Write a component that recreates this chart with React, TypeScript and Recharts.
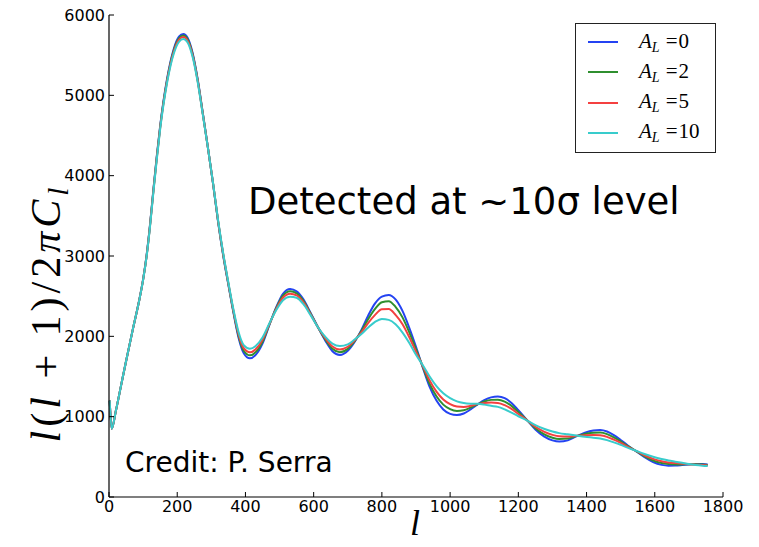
import React from 'react';
import { LineChart, Line, XAxis, YAxis, Legend } from 'recharts';

const ells = [2, 8, 20, 35, 50, 70, 90, 100, 110, 120, 130, 140, 150, 170, 190, 205, 218, 230, 245, 260, 275, 290, 305, 320, 335, 350, 365, 380, 395, 413, 430, 450, 470, 490, 510, 531, 550, 570, 590, 613, 635, 655, 677, 700, 720, 740, 760, 780, 800, 820, 840, 860, 880, 900, 920, 940, 960, 980, 1000, 1020, 1040, 1060, 1080, 1100, 1120, 1140, 1160, 1180, 1200, 1225, 1250, 1275, 1300, 1320, 1345, 1370, 1395, 1420, 1440, 1460, 1480, 1500, 1520, 1545, 1570, 1595, 1620, 1640, 1660, 1680, 1700, 1720, 1740, 1755];

const al0 = [1200, 850, 1070, 1380, 1690, 2090, 2480, 2710, 3000, 3380, 3820, 4240, 4620, 5200, 5580, 5730, 5765, 5720, 5530, 5200, 4780, 4350, 3900, 3420, 3000, 2640, 2290, 1980, 1790, 1727, 1770, 1910, 2140, 2360, 2530, 2589, 2560, 2460, 2300, 2110, 1940, 1815, 1768, 1820, 1930, 2080, 2260, 2410, 2495, 2515, 2460, 2320, 2110, 1870, 1610, 1370, 1200, 1090, 1035, 1021, 1040, 1090, 1150, 1205, 1240, 1250, 1230, 1170, 1080, 960, 840, 755, 705, 690, 705, 755, 800, 828, 834, 815, 770, 710, 645, 570, 495, 435, 400, 390, 392, 398, 405, 411, 410, 405];

const al2 = [1200, 850, 1070, 1380, 1690, 2090, 2478, 2707, 2995, 3373, 3811, 4228, 4608, 5185, 5562, 5710, 5745, 5702, 5515, 5190, 4774, 4348, 3903, 3426, 3009, 2649, 2302, 2001, 1820, 1763, 1803, 1933, 2146, 2350, 2506, 2560, 2536, 2442, 2291, 2110, 1955, 1844, 1802, 1844, 1939, 2065, 2215, 2341, 2425, 2438, 2367, 2239, 2053, 1840, 1619, 1409, 1254, 1150, 1094, 1072, 1079, 1112, 1153, 1189, 1209, 1212, 1188, 1134, 1058, 959, 857, 784, 738, 722, 728, 758, 785, 801, 802, 783, 743, 692, 636, 572, 507, 455, 422, 410, 406, 406, 407, 407, 404, 399];

const al5 = [1200, 850, 1070, 1380, 1690, 2090, 2477, 2705, 2991, 3366, 3801, 4215, 4595, 5169, 5543, 5690, 5725, 5683, 5499, 5178, 4768, 4347, 3906, 3432, 3019, 2659, 2315, 2023, 1852, 1801, 1838, 1957, 2152, 2338, 2480, 2530, 2510, 2423, 2281, 2110, 1971, 1874, 1837, 1870, 1949, 2049, 2167, 2267, 2338, 2340, 2268, 2153, 1992, 1808, 1629, 1451, 1312, 1214, 1156, 1126, 1121, 1135, 1156, 1171, 1175, 1171, 1143, 1096, 1034, 957, 874, 814, 773, 755, 752, 761, 769, 772, 768, 749, 714, 673, 626, 573, 520, 475, 445, 430, 422, 415, 408, 403, 398, 393];

const al10 = [1200, 850, 1070, 1380, 1690, 2090, 2475, 2702, 2985, 3355, 3790, 4200, 4580, 5150, 5520, 5665, 5700, 5660, 5480, 5165, 4760, 4345, 3910, 3440, 3030, 2670, 2330, 2050, 1890, 1846, 1880, 1985, 2160, 2325, 2450, 2494, 2480, 2400, 2270, 2110, 1990, 1910, 1880, 1900, 1960, 2030, 2110, 2180, 2216, 2205, 2150, 2050, 1920, 1770, 1640, 1500, 1380, 1290, 1230, 1190, 1170, 1162, 1160, 1150, 1135, 1122, 1090, 1050, 1005, 955, 895, 850, 815, 795, 780, 765, 750, 738, 728, 708, 680, 650, 615, 575, 535, 500, 472, 455, 440, 425, 410, 398, 390, 386];

const xTicks = [0, 200, 400, 600, 800, 1000, 1200, 1400, 1600, 1800];
const yTicks = [0, 1000, 2000, 3000, 4000, 5000, 6000];
const seriesKeys = ['a0', 'a2', 'a5', 'a10'];
const seriesLabels = ['0', '2', '5', '10'];
const seriesColors = ['#2443f2', '#2f8f2f', '#f44040', '#38cccc'];

const data = ells.map((l, i) => ({ l, a0: al0[i], a2: al2[i], a5: al5[i], a10: al10[i] }));

const tickStyle = { fill: '#000', fontSize: 16, fontFamily: 'DejaVu Sans' };
const mathFont = 'Liberation Serif';

function LegendBox() {
  return (
    <div style={{ width: 139, height: 128, border: '1.5px solid #222', background: '#fff', boxSizing: 'content-box', position: 'relative' }}>
      {seriesKeys.map((k, i) => (
        <div key={k} style={{ position: 'absolute', left: 12, top: 5 + i * 30.3, height: 26, display: 'flex', alignItems: 'center' }}>
          <svg width={30} height={4} style={{ display: 'block' }}>
            <line x1={0} x2={30} y1={2} y2={2} stroke={seriesColors[i]} strokeWidth={2} />
          </svg>
          <span style={{ marginLeft: 21, fontFamily: mathFont, fontSize: 21, color: '#000', whiteSpace: 'nowrap' }}>
            <i>A</i><sub style={{ fontSize: 14, fontStyle: 'italic', verticalAlign: '-4px' }}>L</sub>
            <span style={{ marginLeft: 6, marginRight: 1 }}>=</span>{seriesLabels[i]}
          </span>
        </div>
      ))}
    </div>
  );
}

export default function App() {
  return (
    <div style={{ position: 'absolute', left: 0, top: 0, width: 759, height: 547, background: '#fff' }}>
      <LineChart width={759} height={547} data={data} margin={{ top: 15, right: 36, bottom: 0, left: 0 }}>
        <XAxis
          dataKey="l"
          type="number"
          domain={[0, 1800]}
          ticks={xTicks}
          height={50}
          tickSize={-5}
          tickMargin={9}
          axisLine={{ stroke: '#000', strokeWidth: 1.2 }}
          tickLine={{ stroke: '#000' }}
          tick={tickStyle}
          interval={0}
        />
        <XAxis
          xAxisId="top"
          orientation="top"
          dataKey="l"
          type="number"
          domain={[0, 1800]}
          ticks={xTicks}
          height={0}
          tickSize={-5}
          tick={false}
          axisLine={{ stroke: '#000', strokeWidth: 1.2 }}
          tickLine={{ stroke: '#000' }}
          interval={0}
        />
        <YAxis
          type="number"
          domain={[0, 6000]}
          ticks={yTicks}
          width={109}
          tickSize={-5}
          tickMargin={9}
          axisLine={{ stroke: '#000', strokeWidth: 1.2 }}
          tickLine={{ stroke: '#000' }}
          tick={tickStyle}
          interval={0}
        />
        <YAxis
          yAxisId="right"
          orientation="right"
          type="number"
          domain={[0, 6000]}
          ticks={yTicks}
          width={0}
          tickSize={-5}
          tick={false}
          axisLine={{ stroke: '#000', strokeWidth: 1.2 }}
          tickLine={{ stroke: '#000' }}
          interval={0}
        />
        {seriesKeys.map((k, i) => (
          <Line
            key={k}
            dataKey={k}
            name={k}
            type="monotone"
            stroke={seriesColors[i]}
            strokeWidth={2}
            dot={false}
            isAnimationActive={false}
          />
        ))}
        <Legend
          layout="vertical"
          align="center"
          verticalAlign="middle"
          content={<LegendBox />}
          wrapperStyle={{ position: 'absolute', left: 575, top: 23, width: 142, height: 131 }}
        />
      </LineChart>
      <svg width={759} height={547} style={{ position: 'absolute', left: 0, top: 0, pointerEvents: 'none' }}>
        <text x={248} y={214} fontFamily="DejaVu Sans" fontSize={37} fill="#000">Detected at ~10σ level</text>
        <text x={125} y={472} fontFamily="DejaVu Sans" fontSize={28} fill="#000">Credit: P. Serra</text>
        <text x={415} y={535} fontFamily={mathFont} fontSize={36} fontStyle="italic" textAnchor="middle" fill="#000">l</text>
        <text transform="translate(60,313) rotate(-90)" fontFamily={mathFont} fontSize={42} letterSpacing={4} textAnchor="middle" fill="#000">
          <tspan fontStyle="italic">l</tspan>
          <tspan>(</tspan>
          <tspan fontStyle="italic">l</tspan>
          <tspan> + 1)/2</tspan>
          <tspan fontStyle="italic">πC</tspan>
          <tspan fontStyle="italic" fontSize={29} dy={8}>l</tspan>
        </text>
      </svg>
    </div>
  );
}
